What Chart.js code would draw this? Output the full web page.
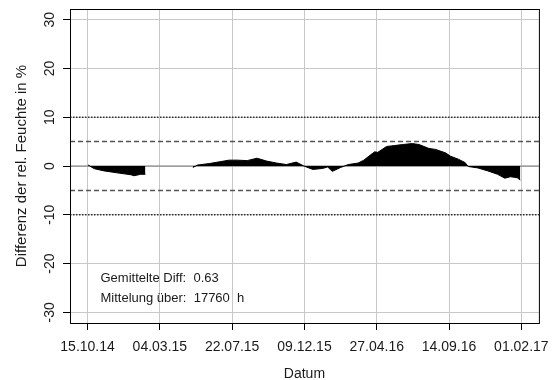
<!DOCTYPE html>
<html>
<head>
<meta charset="utf-8">
<script src="https://cdn.jsdelivr.net/npm/chart.js@4/dist/chart.umd.min.js"></script>
<style>
  body { margin: 0; background: #fff; }
  canvas { display: block; }
</style>
</head>
<body>
<canvas id="diffChart" width="558" height="380"></canvas>
<script>
// Tage seit 15.10.14 und Differenz der rel. Feuchte (null = Messlücke)
const dayOffsets = [1, 13, 32, 57, 84, 90, 103, 112, 160,
    204, 213, 236, 255, 274, 290, 309, 328, 347, 366, 385, 404, 419, 436, 455, 465, 474, 490,
    505, 524, 535, 547, 556, 562, 579, 595, 610, 629, 642, 661, 674, 693, 703, 718, 731, 737,
    756, 775, 794, 808, 819, 832, 838];
const diffValues = [0.2, -0.55, -1.0, -1.4, -1.8, -2.0, -1.7, -1.7, null,
    -0.3, 0.2, 0.5, 0.85, 1.2, 1.2, 1.1, 1.6, 1.0, 0.6, 0.3, 0.8, 0.0, -0.7, -0.5, -0.2, -1.1, -0.3,
    0.3, 0.6, 1.2, 2.2, 2.9, 2.8, 4.0, 4.2, 4.4, 4.6, 4.4, 3.6, 3.4, 2.7, 2.0, 1.4, 0.7, -0.1,
    -0.4, -1.0, -1.7, -2.5, -2.2, -2.4, -2.9];

const xTickDays = [0, 140, 280, 420, 560, 700, 840];
const xTickLabels = ['15.10.14', '04.03.15', '22.07.15', '09.12.15', '27.04.16', '14.09.16', '01.02.17'];
const yTickValues = [-30, -20, -10, 0, 10, 20, 30];

const xMin = -34, xMax = 874;
const yMin = -32.2, yMax = 32.2;

const dottedLevels = [10, -10];
const dashedLevels = [5, -5];

const infoLines = ['Gemittelte Diff:  0.63', 'Mittelung über:  17760  h'];
const infoX = 25;
const infoY = [-23, -27.1];

const FONT = '"Liberation Sans", Arial, sans-serif';
const TEXT = '#1a1a1a';

function levelLine(level, dash, color, width) {
    return {
        data: [{ x: xMin, y: level }, { x: xMax, y: level }],
        borderColor: color,
        borderWidth: width,
        borderDash: dash,
        pointRadius: 0,
        fill: false,
        order: 2
    };
}

const datasets = [{
    data: dayOffsets.map((d, i) => ({ x: d, y: diffValues[i] })),
    borderColor: '#000',
    backgroundColor: '#000',
    borderWidth: 1,
    pointRadius: 0,
    fill: 'origin',
    spanGaps: false,
    order: 1
}];
datasets.push(levelLine(0, [], '#777', 1));
dottedLevels.forEach(l => datasets.push(levelLine(l, [1.5, 1.5], '#333', 1.5)));
dashedLevels.forEach(l => datasets.push(levelLine(l, [5, 3], '#555', 1.5)));

const framePlugin = {
    id: 'frame',
    afterDraw(chart) {
        const { ctx, chartArea: a, scales } = chart;
        ctx.save();
        ctx.strokeStyle = '#000';
        ctx.lineWidth = 1;
        ctx.strokeRect(a.left + 0.5, a.top + 0.5, a.right - a.left, a.bottom - a.top);

        // y tick labels, rotated like in R
        ctx.fillStyle = TEXT;
        ctx.font = '14px ' + FONT;
        ctx.textAlign = 'center';
        ctx.textBaseline = 'middle';
        yTickValues.forEach(v => {
            ctx.save();
            ctx.translate(50, scales.y.getPixelForValue(v));
            ctx.rotate(-Math.PI / 2);
            ctx.fillText(String(v), 0, 0);
            ctx.restore();
        });

        // info text
        ctx.font = '13px ' + FONT;
        ctx.textAlign = 'left';
        infoLines.forEach((t, i) => {
            ctx.fillText(t, scales.x.getPixelForValue(infoX), scales.y.getPixelForValue(infoY[i]));
        });
        ctx.restore();
    }
};

new Chart(document.getElementById('diffChart'), {
    type: 'line',
    data: { datasets },
    options: {
        responsive: false,
        animation: false,
        layout: { padding: { top: 9, right: 11, left: 0, bottom: 0 } },
        plugins: { legend: { display: false }, tooltip: { enabled: false } },
        elements: { line: { tension: 0 } },
        scales: {
            x: {
                type: 'linear',
                min: xMin,
                max: xMax,
                afterBuildTicks: s => { s.ticks = xTickDays.map(v => ({ value: v })); },
                afterFit: s => { s.height = 57; },
                ticks: {
                    autoSkip: false,
                    maxRotation: 0,
                    padding: 9,
                    color: TEXT,
                    font: { family: FONT, size: 14 },
                    callback: v => xTickLabels[xTickDays.indexOf(v)]
                },
                grid: { color: '#c8c8c8', tickColor: '#000', tickLength: 7, lineWidth: 1 },
                border: { color: '#000', width: 1 },
                title: {
                    display: true,
                    text: 'Datum',
                    color: TEXT,
                    font: { family: FONT, size: 14 },
                    padding: { top: 0, bottom: -3 }
                }
            },
            y: {
                min: yMin,
                max: yMax,
                afterBuildTicks: s => { s.ticks = yTickValues.map(v => ({ value: v })); },
                afterFit: s => { s.width = 70; },
                ticks: { display: false },
                grid: { color: '#c8c8c8', tickColor: '#000', tickLength: 7, lineWidth: 1 },
                border: { color: '#000', width: 1 },
                title: {
                    display: true,
                    text: 'Differenz der rel. Feuchte in %',
                    color: TEXT,
                    font: { family: FONT, size: 15 },
                    padding: { top: 13, bottom: 0 }
                }
            }
        }
    },
    plugins: [framePlugin]
});
</script>
</body>
</html>
